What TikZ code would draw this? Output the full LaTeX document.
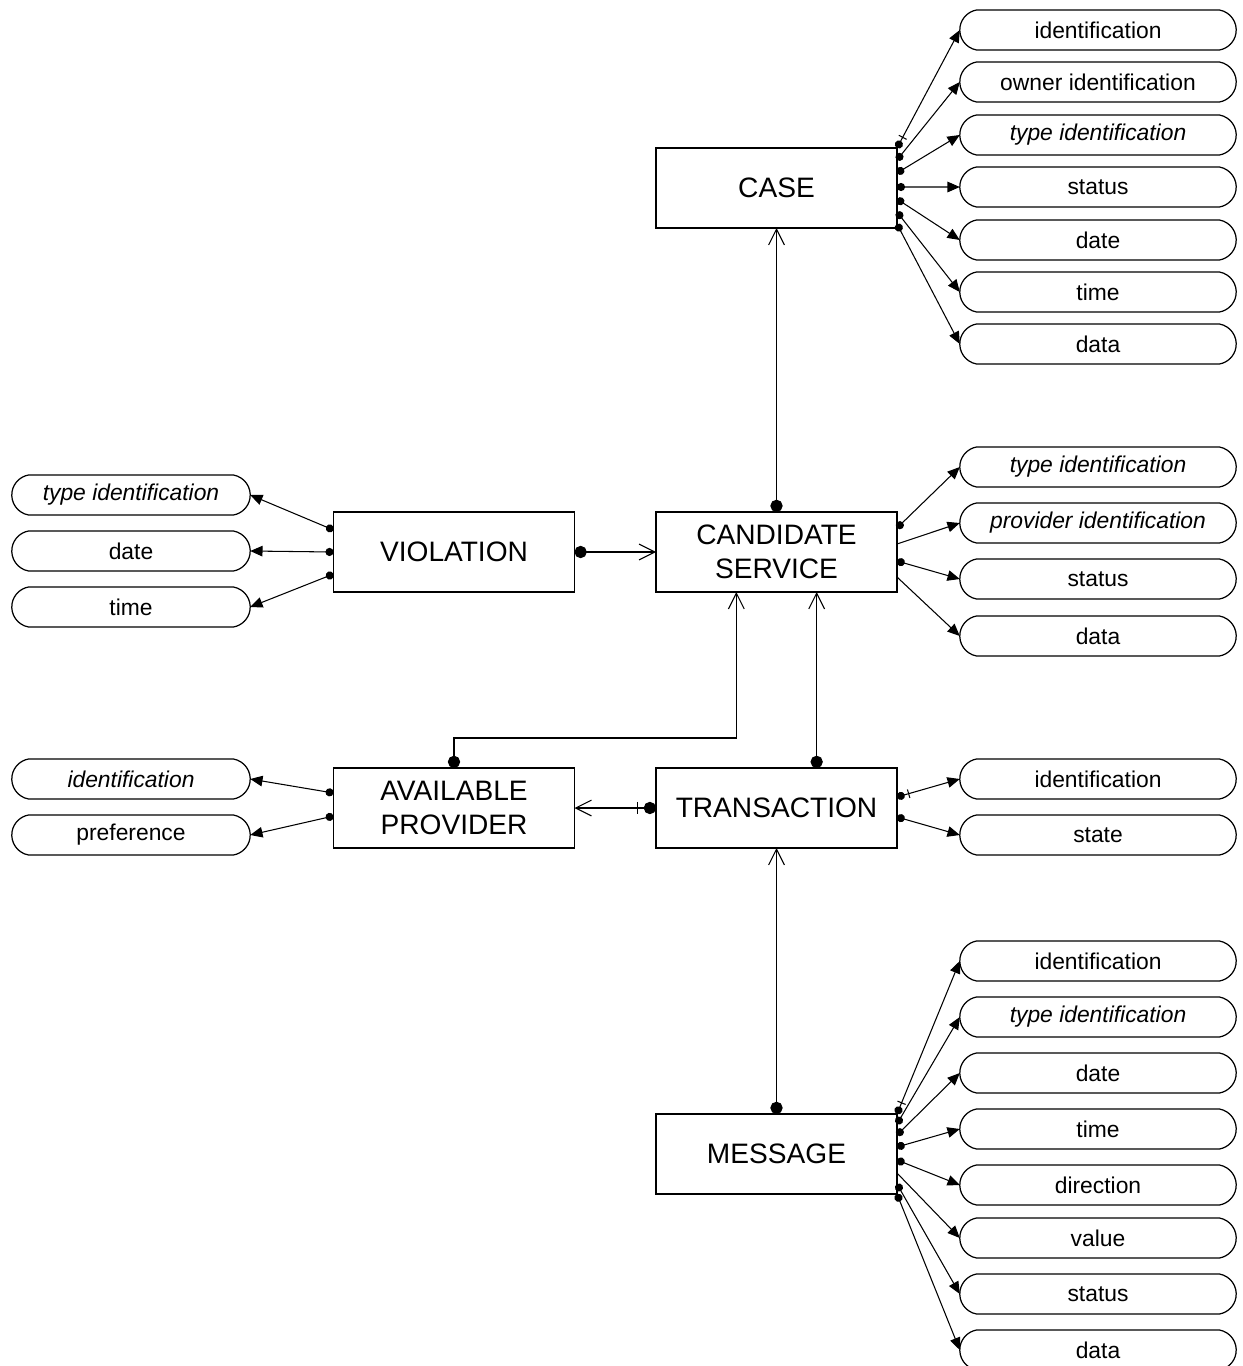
\documentclass[tikz,border=0pt]{standalone}
\usepackage{fontspec}
\setmainfont{Liberation Sans}
\usepackage{tikz}
\usetikzlibrary{arrows.meta,shapes.misc,calc}
\tikzstyle{entity} = [draw, rectangle, line width=0.7pt, minimum width=4.82cm, minimum height=1.6cm, align=center, inner sep=0pt, outer sep=0pt, font=\fontsize{16}{19}\selectfont]
\tikzstyle{attr} = [draw, rounded rectangle, rounded rectangle arc length=160, line width=0.7pt, minimum width=5.6cm, minimum height=0.8cm, inner sep=1pt, outer sep=0pt, font=\fontsize{13}{15}\selectfont]
\tikzstyle{lattr} = [attr, minimum width=4.84cm]
\tikzstyle{ownattr} = [line width=0.6pt, {Circle[length=4.6pt]}-{Triangle[length=7pt,width=6pt]}]
\tikzstyle{optattr} = [line width=0.6pt, -{Triangle[length=7pt,width=6pt]}]
\tikzstyle{keyattr} = [line width=0.6pt, {Circle[length=4.6pt] Bar[width=5pt,sep=2pt]}-{Triangle[length=7pt,width=6pt]}]
\tikzstyle{relation} = [line width=0.6pt, {Circle[length=7pt]}-{Straight Barb[length=9pt,width=9pt]}]
\tikzstyle{keyrelation} = [line width=0.6pt, {Circle[length=7pt] Bar[width=7pt,sep=3pt]}-{Straight Barb[length=9pt,width=9pt]}]

\begin{document}
\begin{tikzpicture}[x=0.02cm, y=-0.02cm]
\useasboundingbox (0,0) rectangle (1242,1366);

% Entities
\node[entity] (case) at (776.5,188) {CASE};
\node[entity] (cand) at (776.5,552) {CANDIDATE\\SERVICE};
\node[entity] (viol) at (454,552) {VIOLATION};
\node[entity] (prov) at (454,808) {AVAILABLE\\PROVIDER};
\node[entity] (trans) at (776.5,808) {TRANSACTION};
\node[entity] (msg) at (776.5,1154) {MESSAGE};

% Attributes of case
\foreach \name/\txt/\yy in {ca1/identification/30, ca2/owner identification/82,
  ca3/{\textit{type identification}}/135, ca4/status/187, ca5/date/240,
  ca6/time/292, ca7/data/344}
  \node[attr] (\name) at (1098,\yy) {\txt};
\foreach \st/\dy/\name in {keyattr/0/ca1, ownattr/12/ca2, ownattr/25/ca3,
  ownattr/39/ca4, ownattr/51/ca5, ownattr/64/ca6, ownattr/76/ca7}
  \draw[\st] ($(case.north east)+(0,\dy)$) -- (\name.west);

% Attributes of candidate service
\foreach \name/\txt/\yy in {cs1/{\textit{type identification}}/467,
  cs2/{\textit{provider identification}}/523, cs3/status/579, cs4/data/636}
  \node[attr] (\name) at (1098,\yy) {\txt};
\foreach \st/\dy/\name in {ownattr/16/cs1, optattr/32/cs2, ownattr/49/cs3,
  optattr/65/cs4}
  \draw[\st] ($(cand.north east)+(0,\dy)$) -- (\name.west);

% Attributes of violation
\foreach \name/\txt/\yy in {vi1/{\textit{type identification}}/495,
  vi2/date/551, vi3/time/607}
  \node[lattr] (\name) at (131,\yy) {\txt};
\foreach \dy/\name in {18/vi1, 40/vi2, 62/vi3}
  \draw[ownattr] ($(viol.north west)+(0,\dy)$) -- (\name.east);

% Attributes of available provider
\node[lattr] (pr1) at (131,779) {\textit{identification}};
\node[lattr] (pr2) at (131,835) {preference};
\draw[ownattr] ($(prov.north west)+(0,25)$) -- (pr1.east);
\draw[ownattr] ($(prov.north west)+(0,48)$) -- (pr2.east);

% Attributes of transaction
\node[attr] (tr1) at (1098,779) {identification};
\node[attr] (tr2) at (1098,835) {state};
\draw[keyattr] ($(trans.north east)+(0,29)$) -- (tr1.west);
\draw[ownattr] ($(trans.north east)+(0,49)$) -- (tr2.west);

% Attributes of message
\foreach \name/\txt/\yy in {ms1/identification/961,
  ms2/{\textit{type identification}}/1017, ms3/date/1073, ms4/time/1129,
  ms5/direction/1185, ms6/value/1238, ms7/status/1294, ms8/data/1350}
  \node[attr] (\name) at (1098,\yy) {\txt};
\foreach \st/\dy/\name in {keyattr/0/ms1, ownattr/10/ms2, ownattr/21/ms3,
  ownattr/33/ms4, ownattr/46/ms5, optattr/59/ms6, ownattr/70/ms7,
  ownattr/80/ms8}
  \draw[\st] ($(msg.north east)+(0,\dy)$) -- (\name.west);

% Relationships
\draw[relation] (cand.north) -- (case.south);
\draw[relation] (viol.east) -- (cand.west);
\draw[relation] (prov.north) -- ++(0,-30)
  -| ($(cand.south west)!1/3!(cand.south east)$);
\draw[relation] ($(trans.north west)!2/3!(trans.north east)$)
  -- ($(cand.south west)!2/3!(cand.south east)$);
\draw[keyrelation] (trans.west) -- (prov.east);
\draw[relation] (msg.north) -- (trans.south);
\end{tikzpicture}
\end{document}
